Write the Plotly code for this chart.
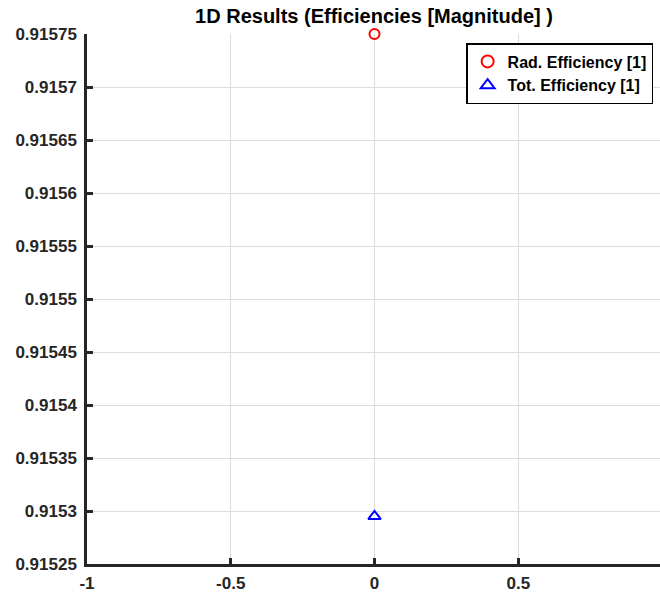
import plotly.graph_objects as go

# Efficiency values at a single sample point
x_vals = [0]
rad_eff = [0.91575]
tot_eff = [0.915295]

y_ticks = [0.91525, 0.9153, 0.91535, 0.9154, 0.91545, 0.9155,
           0.91555, 0.9156, 0.91565, 0.9157, 0.91575]
y_labels = ["0.91525", "0.9153", "0.91535", "0.9154", "0.91545", "0.9155",
            "0.91555", "0.9156", "0.91565", "0.9157", "0.91575"]
x_ticks = [-1, -0.5, 0, 0.5, 1]
x_labels = ["-1", "-0.5", "0", "0.5", "1"]

font_fam = "Liberation Sans, Arial, sans-serif"

fig = go.Figure()
fig.add_trace(go.Scatter(
    x=x_vals, y=rad_eff, mode="markers", name="<b>Rad. Efficiency [1]</b>",
    cliponaxis=False,
    marker=dict(symbol="circle-open", size=10, color="#ff0000",
                line=dict(width=2, color="#ff0000")),
))
fig.add_trace(go.Scatter(
    x=x_vals, y=tot_eff, mode="markers", name="<b>Tot. Efficiency [1]</b>",
    cliponaxis=False,
    marker=dict(symbol="triangle-up-open", size=11, color="#0000ff",
                line=dict(width=2, color="#0000ff")),
))

fig.update_layout(
    width=660, height=594,
    margin=dict(l=87, r=0, t=34, b=30),
    paper_bgcolor="white", plot_bgcolor="white",
    title=dict(text="<b>1D Results (Efficiencies [Magnitude] )</b>",
               x=374 / 660, xanchor="center", y=1 - 16 / 594, yanchor="middle",
               font=dict(family=font_fam, size=20, color="#000000")),
    font=dict(family=font_fam, size=17, color="#262626"),
    showlegend=True,
    legend=dict(x=0.988, xanchor="right", y=0.983, yanchor="top",
                bgcolor="white", bordercolor="#000000", borderwidth=1.5,
                font=dict(family=font_fam, size=16, color="#000000"),
                itemsizing="constant", tracegroupgap=0,
                itemwidth=30),
)

fig.update_xaxes(
    range=[-1, 0.993], tickvals=x_ticks, ticktext=["<b>%s</b>" % t for t in x_labels],
    showgrid=True, gridcolor="#dcdcdc", gridwidth=1.2,
    zeroline=False, showline=True, linecolor="#262626", linewidth=2.5,
    ticks="inside", ticklen=6, tickwidth=2.5, tickcolor="#262626",
    ticklabelstandoff=2, automargin=False,
    tickfont=dict(family=font_fam, size=17, color="#262626"),
)
fig.update_yaxes(
    range=[0.91525, 0.91575], tickvals=y_ticks,
    ticktext=["<b>%s</b>" % t for t in y_labels],
    showgrid=True, gridcolor="#dcdcdc", gridwidth=1.2,
    zeroline=False, showline=True, linecolor="#262626", linewidth=2.5,
    ticks="inside", ticklen=6, tickwidth=2.5, tickcolor="#262626",
    ticklabelstandoff=4, automargin=False,
    tickfont=dict(family=font_fam, size=17, color="#262626"),
)

fig.write_html("out.html")
